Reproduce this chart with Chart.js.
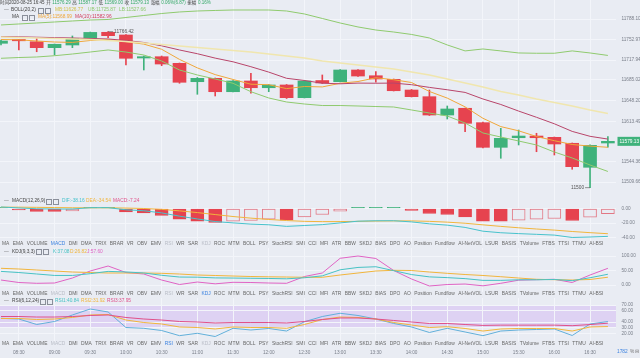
<!DOCTYPE html>
<html><head><meta charset="utf-8">
<script src="https://cdn.jsdelivr.net/npm/chart.js@4.4.1/dist/chart.umd.min.js"></script>
<style>
html,body{margin:0;padding:0;}
body{width:640px;height:358px;overflow:hidden;background:#e9ecf3;position:relative;font-family:"Liberation Sans",Arial,"Noto Sans CJK SC",sans-serif;}
canvas{position:absolute;left:0;display:block;}
.t{position:absolute;white-space:nowrap;font-size:4.8px;line-height:6px;color:#555;}
.t span{margin-right:1.6px;}
.box{position:absolute;width:4px;height:4px;border:0.7px solid #8a8f9a;}
.tabs{position:absolute;left:2px;width:602px;display:flex;justify-content:space-between;font-size:4.9px;line-height:6px;color:#666;white-space:nowrap;}
.tabs .on{color:#3b82e0;}
.tabs .dim{color:#b9bdc7;}
</style></head><body>
<canvas id="cMain" width="640" height="197" style="top:0"></canvas>
<canvas id="cMacd" width="640" height="46" style="top:197px"></canvas>
<canvas id="cKdj" width="640" height="44" style="top:248px"></canvas>
<canvas id="cRsi" width="640" height="60" style="top:298px"></canvas>
<div id="ov"></div>
<script>
// ---------------- data ----------------
const categories = ['08:15','08:30','08:45','09:00','09:15','09:30','09:45','10:00','10:15','10:30','10:45','11:00','11:15','11:30','11:45','12:00','12:15','12:30','12:45','13:00','13:15','13:30','13:45','14:00','14:15','14:30','14:45','15:00','15:15','15:30','15:45','16:00','16:15','16:30','16:45'];
const openP  = [11746.6,11751.7,11749.3,11739.1,11743.7,11755.1,11765.4,11760.8,11721.5,11723.7,11712.4,11681.0,11686.8,11663.9,11682.2,11670.7,11675.4,11653.7,11683.0,11681.0,11701.0,11691.2,11685.1,11666.8,11655.4,11624.1,11635.6,11611.0,11568.9,11585.3,11588.2,11586.0,11575.8,11534.8,11576.29];
const highP  = [11752.2,11753.1,11755.1,11745.4,11759.1,11765.8,11766.42,11761.6,11724.9,11724.9,11712.9,11688.2,11687.3,11683.1,11695.4,11676.2,11676.2,11683.1,11692.5,11701.8,11701.8,11698.1,11685.6,11667.7,11666.8,11639.5,11636.1,11612.2,11601.4,11598.5,11592.9,11586.5,11576.3,11573.0,11587.17];
const lowP   = [11743.7,11735.2,11732.2,11726.6,11739.1,11753.5,11756.2,11709.5,11701.0,11708.3,11678.3,11659.5,11656.6,11663.4,11661.2,11663.9,11652.3,11653.2,11677.9,11680.5,11689.9,11680.0,11665.1,11654.9,11623.3,11617.3,11595.6,11567.7,11550.2,11572.9,11561.4,11555.8,11531.4,11500.00,11569.00];
const closeP = [11750.5,11750.9,11739.1,11744.9,11755.1,11765.2,11759.6,11721.0,11723.7,11711.2,11680.0,11686.8,11663.9,11682.2,11670.7,11675.4,11653.7,11682.2,11678.8,11701.0,11690.7,11685.6,11665.6,11655.4,11624.1,11634.4,11609.9,11568.9,11584.3,11588.2,11585.3,11574.6,11535.8,11572.26,11579.13];
const ma5  = [11753.1,11752.6,11750.5,11748.8,11748.1,11751.4,11753.1,11749.3,11745.2,11736.4,11719.1,11704.6,11693.1,11684.8,11676.7,11675.9,11669.2,11672.8,11672.1,11678.3,11681.3,11687.7,11684.4,11679.6,11664.3,11653.0,11638.0,11618.5,11604.3,11597.1,11587.4,11580.2,11573.7,11571.0,11568.99];
const ma10 = [11758.2,11757.7,11757.0,11756.3,11755.7,11754.8,11754.0,11751.4,11748.0,11742.3,11735.2,11728.8,11721.3,11715.0,11706.6,11697.4,11686.8,11683.1,11678.4,11677.4,11678.6,11678.4,11678.6,11675.9,11671.3,11667.2,11662.7,11651.5,11642.1,11630.8,11620.2,11609.1,11596.1,11587.7,11582.96];
const bollUB = [11777.9,11779.6,11781.3,11783.0,11784.7,11786.4,11787.3,11790.7,11794.1,11797.5,11800.1,11801.8,11802.7,11803.5,11803.5,11803.5,11801.8,11796.7,11789.0,11781.3,11774.5,11769.3,11765.9,11761.7,11755.7,11743.8,11733.6,11736.9,11733.6,11730.1,11729.6,11729.6,11733.6,11730.1,11725.87];
const bollMB = [11757.4,11756.5,11755.7,11754.8,11754.0,11753.1,11751.4,11749.7,11747.1,11744.6,11742.0,11739.4,11736.9,11734.3,11731.7,11728.3,11724.9,11721.5,11716.4,11713.0,11709.5,11706.1,11702.7,11697.6,11692.5,11685.6,11678.8,11672.0,11664.3,11658.3,11651.5,11645.5,11639.5,11632.7,11626.77];
const bollLB = [11721.0,11722.3,11723.2,11725.4,11728.3,11731.7,11735.2,11731.7,11726.6,11716.4,11701.0,11692.5,11685.6,11678.3,11663.9,11653.2,11646.3,11642.9,11640.3,11640.3,11639.5,11638.6,11637.8,11632.7,11627.5,11622.4,11610.5,11593.4,11586.5,11579.7,11572.9,11560.9,11550.7,11538.7,11527.66];
const macdDIF = [2.05,0.8,-0.4,-0.7,-0.7,1.1,1.15,-1.8,-3.1,-6.0,-10.5,-14.3,-17.9,-19.7,-21.4,-22.3,-24.5,-23.3,-22.1,-19.75,-17.35,-16.8,-16.75,-18.35,-21.0,-22.8,-25.9,-31.1,-33.2,-34.4,-35.4,-36.45,-39.7,-39.05,-38.16];
const macdDEA = [1.8,1.8,1.6,1.3,1.0,0.9,0.9,0.6,0.0,-1.2,-3.2,-5.6,-8.3,-11.0,-13.2,-15.0,-16.5,-17.6,-18.0,-17.9,-17.6,-17.2,-17.0,-17.0,-17.6,-18.7,-20.2,-22.4,-24.5,-26.4,-28.1,-29.6,-31.5,-33.1,-34.54];
const macdBar = [0.5,-2.0,-4.0,-4.0,-3.4,0.4,0.5,-4.8,-6.2,-9.6,-14.6,-17.4,-19.2,-17.4,-16.4,-14.6,-16.0,-11.4,-8.2,-3.7,0.5,0.8,0.5,-2.7,-6.8,-8.2,-11.4,-17.4,-17.4,-16.0,-14.6,-13.7,-16.4,-11.9,-7.24];
const kdjK = [47,43,38,33,33,39,47,45,41.5,33.5,27.5,27,24.5,24,23.2,22.6,21.4,25,31.6,52.5,60.6,63,49.5,36,28,25.5,22,16,16,18,18,19,15,25,37.08];
const kdjD = [57.6,55.2,51.7,48.3,44.8,43.1,41.4,41.4,41.4,40.3,37.9,34.5,32.8,31,29.3,28.3,27.6,26.6,26.6,34.5,41.4,48.3,50.7,50,44.8,40.3,36.2,32.8,28.6,24.1,19.7,18.3,17.2,19,26.82];
const kdjJ = [17.2,8.6,5.9,6.9,24.1,48.3,65.5,43.1,37.9,17.2,1.7,10.3,4.1,9.3,8.6,6.9,5.9,29.3,41.4,92.1,100,91.4,50,20.7,-3.4,1.7,3.4,-2.8,5.9,16.6,18.3,19.7,8.6,34.5,57.6];
const rsi1 = [46.5,45.3,35.6,40.9,52.4,62.9,57.7,30.3,28.9,25.0,15.9,20.1,14.4,28.9,25.9,28.6,24.1,40.5,49.7,55.4,51.5,45.3,37.4,31.2,21.5,28.9,22.4,15.9,24.1,25.9,26.8,27.7,16.2,36.5,40.84];
const rsi2 = [46.2,46.2,44.4,45.3,48.0,52.4,53.2,43.5,39.1,36.5,31.2,30.3,27.7,31.2,30.3,30.3,28.9,35.6,44.4,48.8,48.0,45.3,39.1,34.7,30.3,31.7,28.6,24.1,27.7,28.6,28.6,28.6,24.1,31.2,31.92];
const rsi3 = [49.7,49.7,48.8,48.8,49.7,51.5,52.4,48.0,45.3,43.5,40.9,40.0,38.3,39.1,39.1,39.1,38.3,40.9,44.4,47.1,47.1,45.3,42.7,40.0,37.4,37.4,35.6,34.0,34.5,34.5,34.5,34.5,33.5,35.5,37.95];
const priceTicks = [11509.66,11544.36,11613.49,11648.20,11685.02,11717.94,11752.97,11788.10];
const priceTickLabels = ['11509.66','11544.36','11613.49','11648.20','11685.02','11717.94','11752.97','11788.10'];
const macdTicks = [0,-20,-40];
const macdTickLabels = ['0.00','-20.00','-40.00'];
const kdjTicks = [0,50,100];
const kdjTickLabels = ['0.00','50.00','100.00'];
const rsiTicks = [70,60,40,30,20];
const rsiTickLabels = ['70.00','60.00','40.00','30.00','20.00'];
const rsiBand = [30,70];
const timeTicks = ['08:30','09:00','09:30','10:00','10:30','11:00','11:30','12:00','12:30','13:00','13:30','14:00','14:30','15:00','15:30','16:00','16:30'];
const tabItems = ['MA','EMA','VOLUME','MACD','DMI','DMA','TRIX','BRAR','VR','OBV','EMV','RSI','WR','SAR','KDJ','ROC','MTM','BOLL','PSY','StochRSI','SMI','CCI','MFI','ATR','BBW','SKDJ','BIAS','DPO','AO','Position','Fundflow','AI-NetVOL','LSUR','BASIS','TVolume','FTBS','TTSI','TTMU','AI-BSI'];
const headerTime = '2020-08-25 16:45';
const headerChange = '0.06%(6.87)';
const headerAmp = '0.16%';

// ---------------- styles ----------------
const BG='#e9ecf3', GRID='#f3f5fa', UP='#3fb27b', DOWN='#e6434f', HOLLOW='#e27784';
const C_BOLL='#8fca6e', C_MB='#f0e6ae', C_MA5='#f0a73a', C_MA10='#b8456a';
const C_DIF='#47c2cc', C_DEA='#f1b53c', C_MACD='#e0508a';
const C_K='#47c2c4', C_D='#f1b53c', C_J='#e063c4';
const C_R1='#62b0da', C_R2='#f1b53c', C_R3='#e0508a';
const AXC='#7a7f8a';
const N = categories.length;
const X_MIN=-0.056, X_MAX=34.454;
const gridIdx = timeTicks.map(t=>categories.indexOf(t));

Chart.defaults.animation=false;
Chart.defaults.responsive=false;
Chart.defaults.devicePixelRatio=1;
Chart.defaults.events=[];
Chart.defaults.plugins.legend.display=false;
Chart.defaults.plugins.tooltip.enabled=false;
Chart.defaults.font.family='"Liberation Sans", Arial, sans-serif';

const pts = arr => arr.map((v,i)=>({x:i,y:v}));
function xAxis(withLabels){
  return {type:'linear',min:X_MIN,max:X_MAX,offset:false,
    afterBuildTicks(s){ s.ticks = gridIdx.map(v=>({value:v})); },
    afterFit(s){ s.paddingLeft=0; s.paddingRight=0; s.height = withLabels?16:0; },
    grid:{color:GRID,lineWidth:1,drawTicks:false,offset:false},
    border:{display:false},
    ticks:{display:withLabels,autoSkip:false,maxRotation:0,padding:8,color:AXC,font:{size:4.7},callback:(v,i)=>timeTicks[i]}
  };
}
function yAxis(min,max,vals,labels){
  return {type:'linear',position:'right',min,max,
    afterBuildTicks(s){ s.ticks = vals.map(v=>({value:v})); },
    afterFit(s){ s.width=24; s.paddingTop=0; s.paddingBottom=0; },
    grid:{color:GRID,lineWidth:1,drawTicks:false},
    border:{display:false},
    ticks:{padding:5.5,color:AXC,font:{size:4.7},autoSkip:false,callback:(v,i)=>labels[i]}
  };
}
function line(arr,color,w){ return {type:'line',data:pts(arr),borderColor:color,borderWidth:w||1,pointRadius:0,fill:false,tension:0,order:0}; }

// ---------------- main chart ----------------
const candleCol = closeP.map((c,i)=> c>=openP[i]?UP:DOWN);
const markerPlugin = {id:'markers', afterDatasetsDraw(chart){
  const ctx=chart.ctx, xs=chart.scales.x, ys=chart.scales.y, a=chart.chartArea;
  ctx.save();
  ctx.font='4.8px "Liberation Sans", Arial, sans-serif';
  ctx.textBaseline='middle';
  let hi=0; highP.forEach((v,i)=>{ if(v>highP[hi]) hi=i; });
  let x=xs.getPixelForValue(hi), y=ys.getPixelForValue(highP[hi]);
  ctx.strokeStyle='#666'; ctx.lineWidth=0.7;
  ctx.beginPath(); ctx.moveTo(x,y); ctx.lineTo(x+5,y); ctx.stroke();
  ctx.fillStyle='#555'; ctx.textAlign='left'; ctx.fillText(highP[hi].toFixed(2),x+6,y);
  let lo=0; lowP.forEach((v,i)=>{ if(v<lowP[lo]) lo=i; });
  x=xs.getPixelForValue(lo); y=ys.getPixelForValue(lowP[lo]);
  ctx.beginPath(); ctx.moveTo(x,y); ctx.lineTo(x-5,y); ctx.stroke();
  ctx.textAlign='right'; ctx.fillText(String(Math.round(lowP[lo])),x-6,y);
  const last=closeP[N-1]; y=ys.getPixelForValue(last);
  ctx.fillStyle=UP; ctx.fillRect(a.right+1.5,y-4.5,30,9);
  ctx.fillStyle='#fff'; ctx.textAlign='left'; ctx.fillText(last.toFixed(2),a.right+3.5,y+0.3);
  ctx.restore();
}};
new Chart(document.getElementById('cMain'),{
  type:'bar',
  data:{datasets:[
    line(bollUB,C_BOLL), line(bollMB,C_MB,1.6), line(bollLB,C_BOLL), line(ma10,C_MA10), line(ma5,C_MA5),
    {type:'bar',data:categories.map((_,i)=>({x:i,y:[lowP[i],highP[i]]})),backgroundColor:candleCol,barThickness:1,grouped:false,order:2},
    {type:'bar',data:categories.map((_,i)=>({x:i,y:[openP[i],closeP[i]]})),backgroundColor:candleCol,barThickness:13,minBarLength:1.3,grouped:false,order:1}
  ]},
  options:{layout:{padding:0},scales:{x:xAxis(false),y:yAxis(11484.04,11820.57,priceTicks,priceTickLabels)}},
  plugins:[markerPlugin]
});

// ---------------- MACD ----------------
const macdFill = macdBar.map((v,i)=> v>=0?UP:((i===0||v<=macdBar[i-1])?DOWN:BG));
const macdBorder = macdBar.map((v,i)=> v>=0?UP:((i===0||v<=macdBar[i-1])?DOWN:HOLLOW));
new Chart(document.getElementById('cMacd'),{
  type:'bar',
  data:{datasets:[
    line(macdDIF,C_DIF), line(macdDEA,C_DEA),
    {type:'bar',data:pts(macdBar),backgroundColor:macdFill,borderColor:macdBorder,borderWidth:1,borderSkipped:false,barThickness:13,minBarLength:1.2,order:1}
  ]},
  options:{layout:{padding:0},scales:{x:xAxis(false),y:yAxis(-47.26,15.75,macdTicks,macdTickLabels)}}
});

// ---------------- KDJ ----------------
new Chart(document.getElementById('cKdj'),{
  type:'line',
  data:{datasets:[line(kdjK,C_K),line(kdjD,C_D),line(kdjJ,C_J)]},
  options:{layout:{padding:0},scales:{x:xAxis(false),y:yAxis(-24.1,127.6,kdjTicks,kdjTickLabels)}}
});

// ---------------- RSI ----------------
const bandPlugin={id:'band',beforeDraw(chart){
  const ctx=chart.ctx, ys=chart.scales.y, a=chart.chartArea;
  const y1=ys.getPixelForValue(rsiBand[1]), y0=ys.getPixelForValue(rsiBand[0]);
  ctx.save(); ctx.fillStyle='#ded2f3'; ctx.fillRect(a.left,y1,a.right-a.left,y0-y1); ctx.restore();
}};
new Chart(document.getElementById('cRsi'),{
  type:'line',
  data:{datasets:[line(rsi3,C_R3),line(rsi2,C_R2),line(rsi1,C_R1)]},
  options:{layout:{padding:0},scales:{x:xAxis(true),y:yAxis(4.74,82.35,rsiTicks,rsiTickLabels)}},
  plugins:[bandPlugin]
});

// ---------------- text overlays ----------------
const ov=document.getElementById('ov');
function T(x,y,s,c){ const d=document.createElement('div'); d.className='t'; d.style.left=x+'px'; d.style.top=(y-3)+'px'; d.textContent=s; if(c) d.style.color=c; ov.appendChild(d); return d; }
function F(x,y,parts,size){ const d=document.createElement('div'); d.className='t'; d.style.left=x+'px'; d.style.top=(y-3)+'px'; if(size) d.style.fontSize=size+'px';
  parts.forEach(([s,c])=>{ const sp=document.createElement('span'); sp.textContent=s; sp.style.color=c; d.appendChild(sp); }); ov.appendChild(d); return d; }
function B(x,y){ const d=document.createElement('div'); d.className='box'; d.style.left=x+'px'; d.style.top=(y-2.4)+'px'; ov.appendChild(d); }
const GV='#34a867', DK='#444';
const f2=v=>v.toFixed(2);
F(0,3,[['时间'+headerTime,DK],['开',DK],[f2(openP[N-1]),GV],['高',DK],[f2(highP[N-1]),GV],['低',DK],[f2(lowP[N-1]),GV],['收',DK],[f2(closeP[N-1]),GV],['涨幅',DK],[headerChange,GV],['振幅',DK],[headerAmp,GV]],4.5);
// BOLL
T(4,10,'—','#777'); T(11,10,'BOLL(20,2)',DK); B(38,10); B(45,10);
T(55,10,'MB:'+f2(bollMB[N-1]),'#d2c24a'); T(88,10,'UB:'+f2(bollUB[N-1]),C_BOLL); T(119,10,'LB:'+f2(bollLB[N-1]),C_BOLL);
// MA
T(12,17,'MA',DK); B(22,17); B(29,17);
T(38,17,'MA(5):'+f2(ma5[N-1]),C_MA5); T(75,17,'MA(10):'+f2(ma10[N-1]),'#d23c5c');
// MACD header
T(4,201,'—','#777'); T(12,201,'MACD(12,26,9)',DK); B(46,201); B(53,201);
T(62,201,'DIF:'+f2(macdDIF[N-1]),C_DIF); T(86,201,'DEA:'+f2(macdDEA[N-1]),C_DEA); T(113,201,'MACD:'+f2(macdBar[N-1]),C_MACD);
// KDJ header
T(4,251.7,'—','#777'); T(12,251.7,'KDJ(9,3,3)',DK); B(36,251.7); B(43,251.7);
T(53,251.7,'K:'+f2(kdjK[N-1]),C_K); T(70,251.7,'D:'+f2(kdjD[N-1]),C_D); T(87,251.7,'J:'+f2(kdjJ[N-1]),C_J);
// RSI header
T(4,301,'—','#777'); T(12,301,'RSI(6,12,24)',DK); B(40,301); B(47,301);
T(55,301,'RSI1:'+f2(rsi1[N-1]),C_K); T(81,301,'RSI2:'+f2(rsi2[N-1]),C_R2); T(107,301,'RSI3:'+f2(rsi3[N-1]),C_R3);
// tab rows
function tabs(y,on){
  const d=document.createElement('div'); d.className='tabs'; d.style.top=(y-3)+'px';
  tabItems.forEach(n=>{ const s=document.createElement('span'); s.textContent=n;
    if(n===on) s.className='on'; else if(n==='MACD'||n==='RSI'||n==='KDJ') s.className='dim';
    d.appendChild(s); });
  ov.appendChild(d);
}
tabs(243.5,'MACD'); tabs(293.5,'KDJ'); tabs(343.5,'RSI');
T(617,352,'1782','#3b82e0'); T(630,352,'%','#777'); T(635,352,'⊟','#777');
</script>
</body></html>
